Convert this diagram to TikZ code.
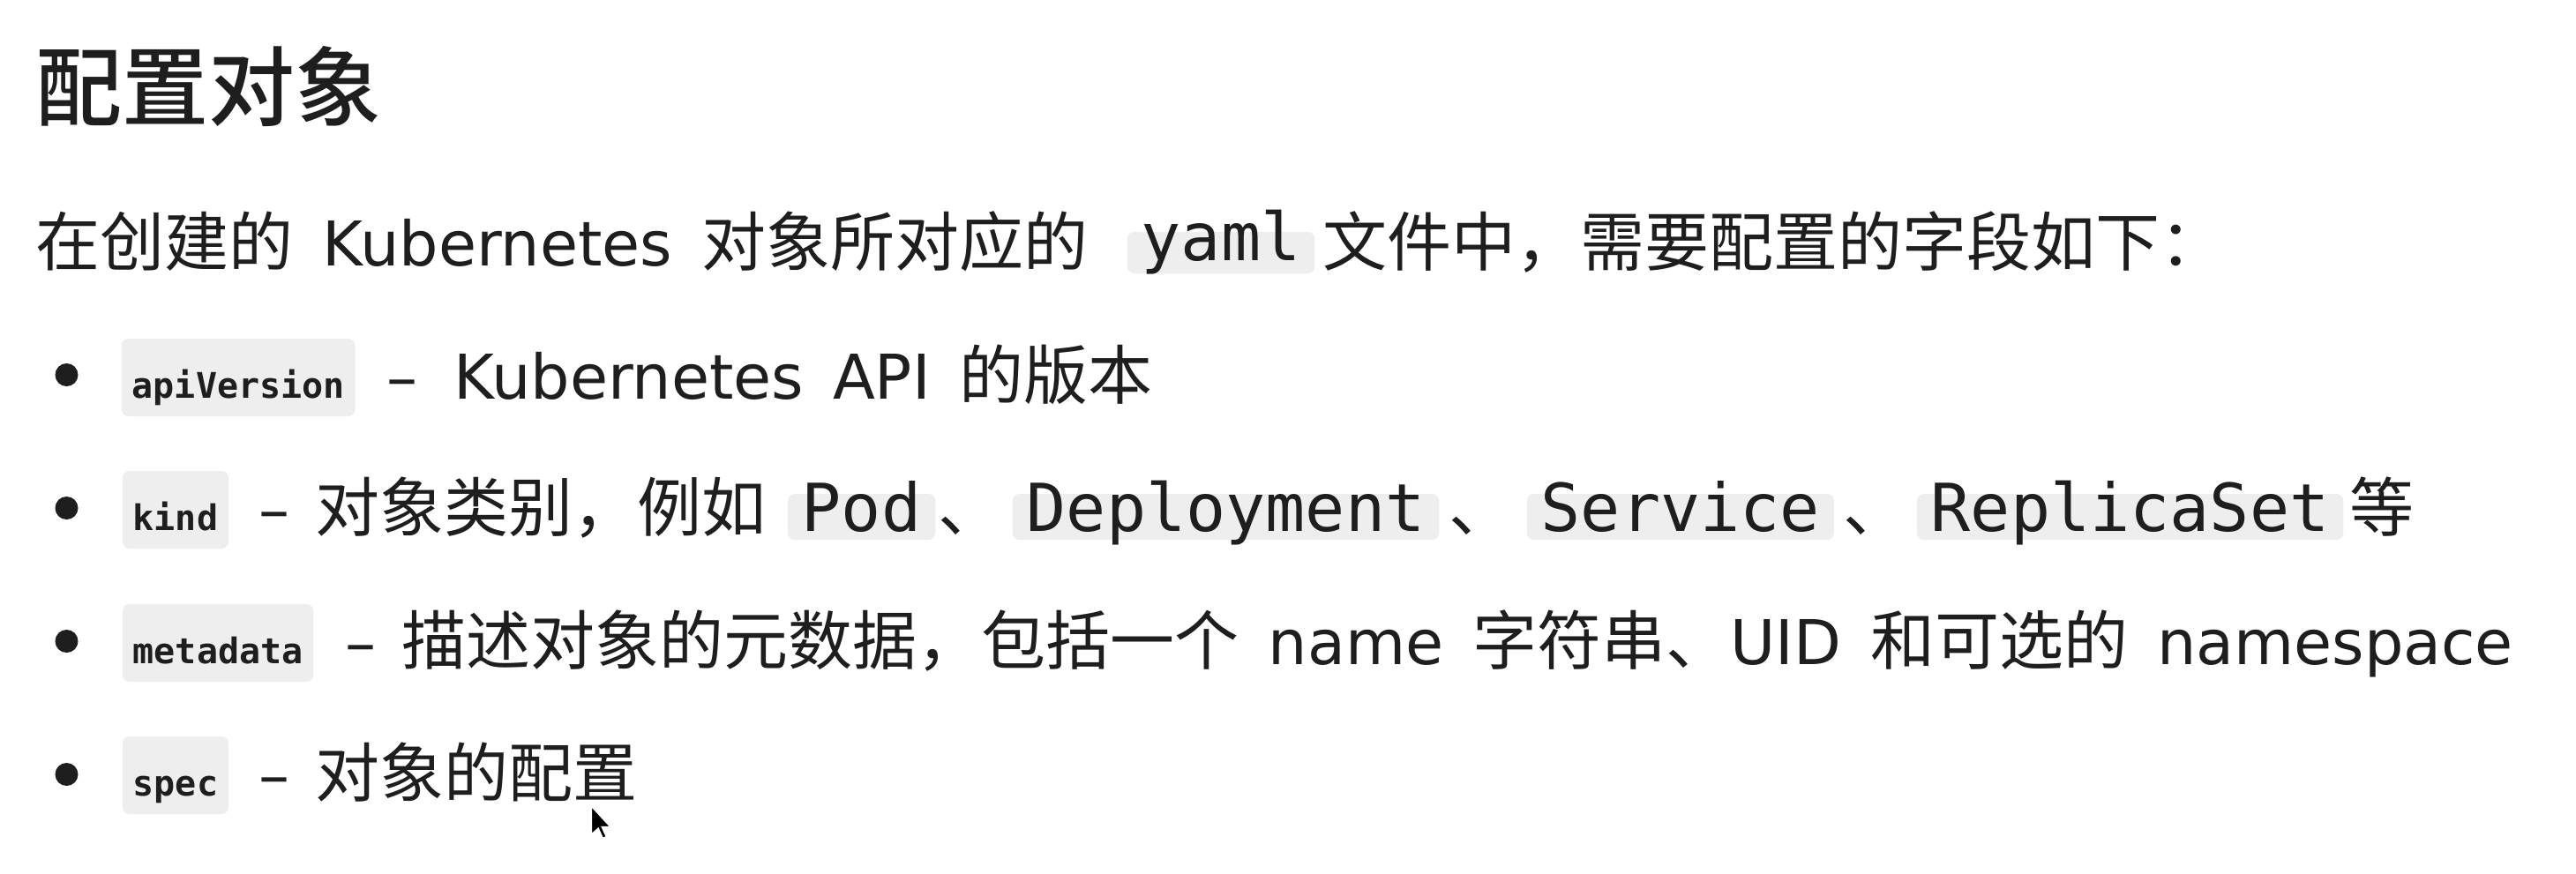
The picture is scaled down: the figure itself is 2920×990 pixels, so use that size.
\documentclass[tikz,border=0pt]{standalone}
\usepackage{fontspec}
\setmainfont{DejaVu Sans}
\setmonofont{DejaVu Sans Mono}
\newfontfamily\cjk{Noto Sans CJK SC}
\newfontfamily\cjkmed{Noto Sans CJK SC Medium}
\newcommand\zh[1]{{\cjk\fontsize{18.25pt}{22pt}\selectfont #1}}
\newcommand\gap{\hspace{8.25pt}}
\definecolor{ink}{RGB}{30,30,30}
\definecolor{codebg}{RGB}{238,238,238}

\begin{document}
\begin{tikzpicture}[x=0.25pt,y=-0.25pt,
		txt/.style={anchor=base west,inner sep=0pt,text=ink,font=\fontsize{17.5pt}{21pt}\selectfont},
		titletxt/.style={anchor=base west,inner sep=0pt,text=ink,font=\cjkmed\fontsize{24.5pt}{28pt}\selectfont},
		smallcode/.style={anchor=base west,fill=codebg,rounded corners=2pt,inner xsep=3pt,inner ysep=0pt,text height=16.75pt,text depth=5.25pt,text=ink,font=\ttfamily\bfseries\fontsize{10pt}{12pt}\selectfont},
		bigcode/.style={anchor=base west,fill=codebg,rounded corners=2pt,inner xsep=4pt,inner ysep=0pt,text height=10.5pt,text depth=2.5pt,text=ink,font=\ttfamily\fontsize{18.75pt}{22pt}\selectfont}]
	\fill[white] (0,0) rectangle (2920,990);
	\useasboundingbox (0,0) rectangle (2920,990);
	
	\node[titletxt] (title) at (40,135) {配置对象};
	
	\node[txt] (intro) at (40,301) {\zh{在创建的}\gap Kubernetes\gap\zh{对象所对应的}};
	\node[bigcode,text height=8pt,text depth=3.75pt] (yaml) at (1277,295) {yaml};
	\node[txt] (introb) at (1499,301) {\zh{文件中，需要配置的字段如下：}};
	
	\foreach \y in {425,576,727,878}
		\fill[ink] (75.5,\y) circle[radius=3.25pt]; % bullets
	
	\node[smallcode] (api) at (137,451) {apiVersion};
	\node[txt] (apid) at (438,452) {–\hspace{10.25pt}Kubernetes\gap API\gap\zh{的版本}};
	
	\node[smallcode] (kind) at (138,601) {kind};
	\node[txt] (kindd) at (293,602) {–\hspace{7.25pt}\zh{对象类别，例如}};
	\node[bigcode] (pod) at (892,602) {Pod};
	\node[txt] (sepa) at (1063,602) {\zh{、}};
	\node[bigcode] (deploy) at (1147,602) {Deployment};
	\node[txt] (sepb) at (1642,602) {\zh{、}};
	\node[bigcode] (svc) at (1730,602) {Service};
	\node[txt] (sepc) at (2089,602) {\zh{、}};
	\node[bigcode] (rs) at (2172,602) {ReplicaSet};
	\node[txt] (etc) at (2663,602) {\zh{等}};
	
	\node[smallcode] (meta) at (138,752) {metadata};
	\node[txt] (metad) at (391,753) {–\hspace{7.25pt}\zh{描述对象的元数据，包括一个}\gap name\gap\zh{字符串、}UID\gap\zh{和可选的}\gap namespace};
	
	\node[smallcode] (spec) at (138,902) {spec};
	\node[txt] (specd) at (293,903) {–\hspace{7.25pt}\zh{对象的配置}};
	
	\filldraw[fill=black,draw=white,line width=0.6pt] (670,913) -- ++(0,34) -- ++(8,-7) -- ++(5,11) -- ++(5,-2) -- ++(-5,-11) -- ++(10,0) -- cycle; % mouse pointer
\end{tikzpicture}
\end{document}
